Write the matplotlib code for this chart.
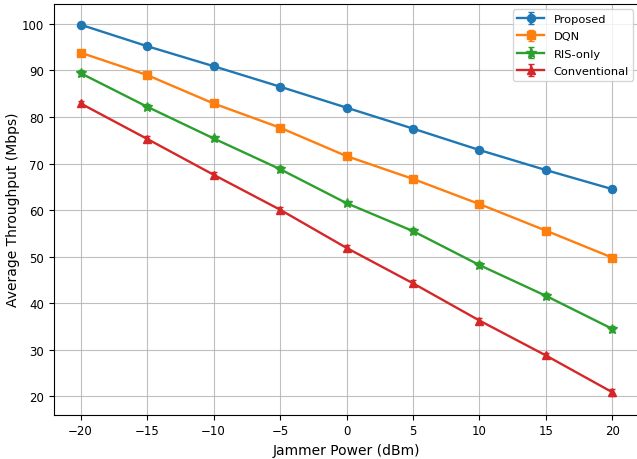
import matplotlib
matplotlib.use("Agg")
import matplotlib.pyplot as plt
import numpy as np

jammer_power = [-20, -15, -10, -5, 0, 5, 10, 15, 20]

proposed = [99.8, 95.2, 90.9, 86.5, 82.0, 77.5, 72.9, 68.6, 64.5]
dqn = [93.8, 89.0, 82.9, 77.7, 71.6, 66.7, 61.3, 55.6, 49.8]
ris_only = [89.4, 82.2, 75.4, 68.8, 61.5, 55.5, 48.2, 41.6, 34.5]
conventional = [82.9, 75.3, 67.6, 60.1, 51.9, 44.3, 36.3, 28.8, 20.9]

proposed_err = [0.5, 0.4, 0.5, 0.5, 0.4, 0.5, 0.5, 0.5, 0.6]
dqn_err = [0.5, 0.5, 0.5, 0.5, 0.5, 0.4, 0.5, 0.5, 0.5]
ris_only_err = [0.6, 0.5, 0.6, 0.6, 0.5, 0.6, 0.6, 0.6, 0.6]
conventional_err = [0.5, 0.6, 0.5, 0.6, 0.6, 0.6, 0.6, 0.6, 0.8]

series = [
    ("Proposed", proposed, proposed_err, "o", "#1f77b4", 5.8),
    ("DQN", dqn, dqn_err, "s", "#ff7f0e", 5.8),
    ("RIS-only", ris_only, ris_only_err, "*", "#2ca02c", 7.8),
    ("Conventional", conventional, conventional_err, "^", "#d62728", 5.8),
]

fig = plt.figure(figsize=(6.37, 4.6), dpi=100)
# axes box in figure fractions; right edge runs just past the canvas
ax = fig.add_axes([54 / 637, 1 - 415.7 / 460, (639 - 54) / 637, (415.7 - 4.7) / 460])

for label, values, err, marker, color, msize in series:
    ax.errorbar(jammer_power, values, yerr=err, label=label, marker=marker,
                color=color, capsize=2.5, linewidth=1.7, markersize=msize)

ax.set_xticks(np.arange(-20, 21, 5))
ax.set_xlabel("Jammer Power (dBm)", fontsize=10)
ax.set_ylabel("Average Throughput (Mbps)", fontsize=10, labelpad=1.5)
ax.tick_params(labelsize=8.5)
ax.grid(True, alpha=0.8)
ax.legend(loc="upper right", fontsize=8.2, handlelength=2.4, labelspacing=0.65)

fig.savefig("out.png", dpi=100)
